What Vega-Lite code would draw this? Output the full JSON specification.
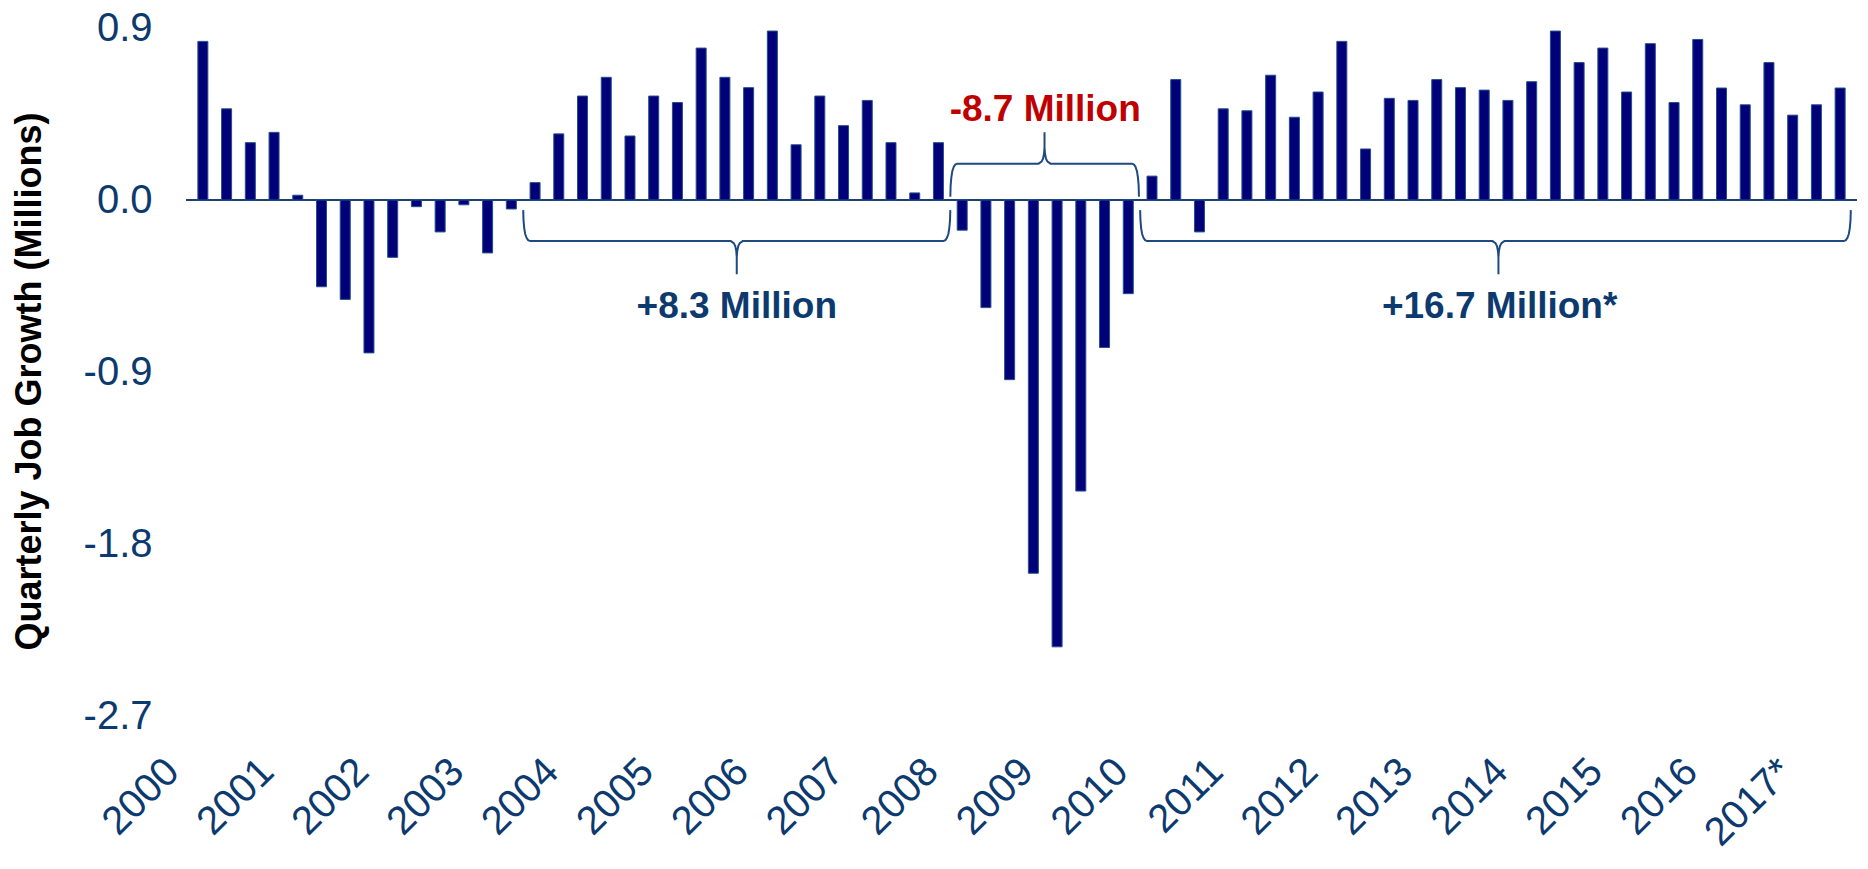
{
  "$schema": "https://vega.github.io/schema/vega-lite/v6.json",
  "width": 1671,
  "height": 688,
  "autosize": "none",
  "padding": {"left": 186, "top": 28, "right": 11, "bottom": 153},
  "background": "white",
  "config": {"view": {"stroke": null}, "axis": {"grid": false, "ticks": false, "domain": false}},
  "datasets": {
    "jobs": [
      {"i": 0, "v": 0.83}, {"i": 1, "v": 0.477}, {"i": 2, "v": 0.30}, {"i": 3, "v": 0.354},
      {"i": 4, "v": 0.025}, {"i": 5, "v": -0.454}, {"i": 6, "v": -0.52}, {"i": 7, "v": -0.80},
      {"i": 8, "v": -0.30}, {"i": 9, "v": -0.035}, {"i": 10, "v": -0.167}, {"i": 11, "v": -0.025},
      {"i": 12, "v": -0.277}, {"i": 13, "v": -0.047}, {"i": 14, "v": 0.091}, {"i": 15, "v": 0.346},
      {"i": 16, "v": 0.544}, {"i": 17, "v": 0.642}, {"i": 18, "v": 0.335}, {"i": 19, "v": 0.544},
      {"i": 20, "v": 0.51}, {"i": 21, "v": 0.795}, {"i": 22, "v": 0.642}, {"i": 23, "v": 0.588},
      {"i": 24, "v": 0.884}, {"i": 25, "v": 0.289}, {"i": 26, "v": 0.544}, {"i": 27, "v": 0.389},
      {"i": 28, "v": 0.521}, {"i": 29, "v": 0.30}, {"i": 30, "v": 0.037}, {"i": 31, "v": 0.30},
      {"i": 32, "v": -0.158}, {"i": 33, "v": -0.563}, {"i": 34, "v": -0.94}, {"i": 35, "v": -1.953},
      {"i": 36, "v": -2.338}, {"i": 37, "v": -1.523}, {"i": 38, "v": -0.772}, {"i": 39, "v": -0.49},
      {"i": 40, "v": 0.125}, {"i": 41, "v": 0.63}, {"i": 42, "v": -0.167}, {"i": 43, "v": 0.477},
      {"i": 44, "v": 0.467}, {"i": 45, "v": 0.653}, {"i": 46, "v": 0.433}, {"i": 47, "v": 0.565},
      {"i": 48, "v": 0.83}, {"i": 49, "v": 0.267}, {"i": 50, "v": 0.532}, {"i": 51, "v": 0.521},
      {"i": 52, "v": 0.63}, {"i": 53, "v": 0.588}, {"i": 54, "v": 0.575}, {"i": 55, "v": 0.521},
      {"i": 56, "v": 0.619}, {"i": 57, "v": 0.884}, {"i": 58, "v": 0.719}, {"i": 59, "v": 0.795},
      {"i": 60, "v": 0.565}, {"i": 61, "v": 0.818}, {"i": 62, "v": 0.51}, {"i": 63, "v": 0.84},
      {"i": 64, "v": 0.586}, {"i": 65, "v": 0.498}, {"i": 66, "v": 0.719}, {"i": 67, "v": 0.444},
      {"i": 68, "v": 0.498}, {"i": 69, "v": 0.586}
    ],
    "braces": [
      {"b": "A", "o": 1, "x": 13.5, "y": -0.053}, {"b": "A", "o": 2, "x": 13.513, "y": -0.105},
      {"b": "A", "o": 3, "x": 13.542, "y": -0.147}, {"b": "A", "o": 4, "x": 13.584, "y": -0.178},
      {"b": "A", "o": 5, "x": 13.647, "y": -0.199}, {"b": "A", "o": 6, "x": 13.709, "y": -0.21},
      {"b": "A", "o": 7, "x": 13.793, "y": -0.215},
      {"b": "A", "o": 8, "x": 22.249, "y": -0.215}, {"b": "A", "o": 9, "x": 22.374, "y": -0.2255},
      {"b": "A", "o": 10, "x": 22.437, "y": -0.241}, {"b": "A", "o": 11, "x": 22.479, "y": -0.267},
      {"b": "A", "o": 12, "x": 22.5, "y": -0.299}, {"b": "A", "o": 13, "x": 22.5, "y": -0.388},
      {"b": "A", "o": 14, "x": 22.5, "y": -0.299}, {"b": "A", "o": 15, "x": 22.521, "y": -0.267},
      {"b": "A", "o": 16, "x": 22.563, "y": -0.241}, {"b": "A", "o": 17, "x": 22.626, "y": -0.2255},
      {"b": "A", "o": 18, "x": 22.751, "y": -0.215},
      {"b": "A", "o": 19, "x": 31.207, "y": -0.215}, {"b": "A", "o": 20, "x": 31.291, "y": -0.21},
      {"b": "A", "o": 21, "x": 31.353, "y": -0.199}, {"b": "A", "o": 22, "x": 31.416, "y": -0.178},
      {"b": "A", "o": 23, "x": 31.458, "y": -0.147}, {"b": "A", "o": 24, "x": 31.487, "y": -0.105},
      {"b": "A", "o": 25, "x": 31.5, "y": -0.053},

      {"b": "B", "o": 1, "x": 31.5, "y": 0.017}, {"b": "B", "o": 2, "x": 31.513, "y": 0.075},
      {"b": "B", "o": 3, "x": 31.542, "y": 0.117}, {"b": "B", "o": 4, "x": 31.584, "y": 0.151},
      {"b": "B", "o": 5, "x": 31.647, "y": 0.174}, {"b": "B", "o": 6, "x": 31.709, "y": 0.185},
      {"b": "B", "o": 7, "x": 31.793, "y": 0.19},
      {"b": "B", "o": 8, "x": 35.219, "y": 0.19}, {"b": "B", "o": 9, "x": 35.344, "y": 0.2005},
      {"b": "B", "o": 10, "x": 35.407, "y": 0.216}, {"b": "B", "o": 11, "x": 35.449, "y": 0.242},
      {"b": "B", "o": 12, "x": 35.47, "y": 0.274}, {"b": "B", "o": 13, "x": 35.47, "y": 0.355},
      {"b": "B", "o": 14, "x": 35.47, "y": 0.274}, {"b": "B", "o": 15, "x": 35.491, "y": 0.242},
      {"b": "B", "o": 16, "x": 35.533, "y": 0.216}, {"b": "B", "o": 17, "x": 35.596, "y": 0.2005},
      {"b": "B", "o": 18, "x": 35.721, "y": 0.19},
      {"b": "B", "o": 19, "x": 39.157, "y": 0.19}, {"b": "B", "o": 20, "x": 39.241, "y": 0.185},
      {"b": "B", "o": 21, "x": 39.303, "y": 0.174}, {"b": "B", "o": 22, "x": 39.366, "y": 0.151},
      {"b": "B", "o": 23, "x": 39.408, "y": 0.117}, {"b": "B", "o": 24, "x": 39.437, "y": 0.075},
      {"b": "B", "o": 25, "x": 39.45, "y": 0.017},

      {"b": "C", "o": 1, "x": 39.5, "y": -0.053}, {"b": "C", "o": 2, "x": 39.513, "y": -0.105},
      {"b": "C", "o": 3, "x": 39.542, "y": -0.147}, {"b": "C", "o": 4, "x": 39.584, "y": -0.178},
      {"b": "C", "o": 5, "x": 39.647, "y": -0.199}, {"b": "C", "o": 6, "x": 39.709, "y": -0.21},
      {"b": "C", "o": 7, "x": 39.793, "y": -0.215},
      {"b": "C", "o": 8, "x": 54.349, "y": -0.215}, {"b": "C", "o": 9, "x": 54.474, "y": -0.2255},
      {"b": "C", "o": 10, "x": 54.537, "y": -0.241}, {"b": "C", "o": 11, "x": 54.579, "y": -0.267},
      {"b": "C", "o": 12, "x": 54.6, "y": -0.299}, {"b": "C", "o": 13, "x": 54.6, "y": -0.388},
      {"b": "C", "o": 14, "x": 54.6, "y": -0.299}, {"b": "C", "o": 15, "x": 54.621, "y": -0.267},
      {"b": "C", "o": 16, "x": 54.663, "y": -0.241}, {"b": "C", "o": 17, "x": 54.726, "y": -0.2255},
      {"b": "C", "o": 18, "x": 54.851, "y": -0.215},
      {"b": "C", "o": 19, "x": 69.157, "y": -0.215}, {"b": "C", "o": 20, "x": 69.241, "y": -0.21},
      {"b": "C", "o": 21, "x": 69.303, "y": -0.199}, {"b": "C", "o": 22, "x": 69.366, "y": -0.178},
      {"b": "C", "o": 23, "x": 69.408, "y": -0.147}, {"b": "C", "o": 24, "x": 69.437, "y": -0.105},
      {"b": "C", "o": 25, "x": 69.45, "y": -0.053}
    ],
    "notes": [
      {"label": "+8.3 Million", "x": 22.5, "y": -0.56, "s": "gain"},
      {"label": "-8.7 Million", "x": 35.5, "y": 0.471, "s": "loss"},
      {"label": "+16.7 Million*", "x": 54.65, "y": -0.56, "s": "gain"}
    ]
  },
  "layer": [
    {
      "data": {"values": [{}]},
      "mark": {"type": "rule", "color": "#1F3F73", "strokeWidth": 2},
      "encoding": {"y": {"datum": 0, "type": "quantitative", "title": "Quarterly Job Growth (Millions)"}}
    },
    {
      "data": {"name": "jobs"},
      "mark": {"type": "bar", "size": 10, "fill": "#000078", "stroke": "#24508A", "strokeWidth": 1},
      "encoding": {
        "x": {
          "field": "i", "type": "quantitative", "title": null,
          "scale": {"domain": [-0.5, 69.5], "nice": false, "zero": false},
          "axis": {
            "values": [-0.5, 3.5, 7.5, 11.5, 15.5, 19.5, 23.5, 27.5, 31.5, 35.5, 39.5, 43.5, 47.5, 51.5, 55.5, 59.5, 63.5, 67.5],
            "labelExpr": "'' + (2000 + (datum.value + 0.5) / 4) + (datum.value > 67 ? '*' : '')",
            "labelAngle": -45, "labelAlign": "right", "labelBaseline": "top",
            "labelPadding": 35, "labelOffset": -33, "labelFontSize": 40, "labelFont": "Liberation Sans",
            "labelColor": "#0D3A6E", "labelOverlap": false, "labelBound": false, "labelFlush": false
          }
        },
        "y": {
          "field": "v", "type": "quantitative", "title": "Quarterly Job Growth (Millions)",
          "scale": {"domain": [-2.7, 0.9], "nice": false, "zero": false},
          "axis": {
            "values": [0.9, 0, -0.9, -1.8, -2.7],
            "labelExpr": "(datum.value < 0 ? '-' : '') + format(abs(datum.value), '.1f')",
            "labelFontSize": 40, "labelFont": "Liberation Sans", "labelColor": "#0D3A6E",
            "labelPadding": 34, "labelOverlap": false, "labelFlush": false,
            "titleFont": "Liberation Sans",
            "titleFontSize": 36, "titleFontWeight": "bold", "titleColor": "black",
            "titleX": -157, "titleY": 353, "titleAngle": -90, "titleAlign": "center", "titleBaseline": "middle"
          }
        }
      }
    },
    {
      "data": {"name": "braces"},
      "mark": {"type": "line", "color": "#1F4A80", "strokeWidth": 2},
      "encoding": {
        "x": {"field": "x", "type": "quantitative", "title": null},
        "y": {"field": "y", "type": "quantitative", "title": "Quarterly Job Growth (Millions)"},
        "detail": {"field": "b"},
        "order": {"field": "o", "type": "quantitative"}
      }
    },
    {
      "data": {"name": "notes"},
      "mark": {"type": "text", "font": "Liberation Sans", "fontSize": 37, "fontWeight": "bold", "align": "center", "baseline": "middle"},
      "encoding": {
        "x": {"field": "x", "type": "quantitative", "title": null},
        "y": {"field": "y", "type": "quantitative", "title": "Quarterly Job Growth (Millions)"},
        "text": {"field": "label"},
        "color": {"field": "s", "type": "nominal", "scale": {"domain": ["gain", "loss"], "range": ["#0D3A6E", "#C00000"]}, "legend": null}
      }
    }
  ]
}
